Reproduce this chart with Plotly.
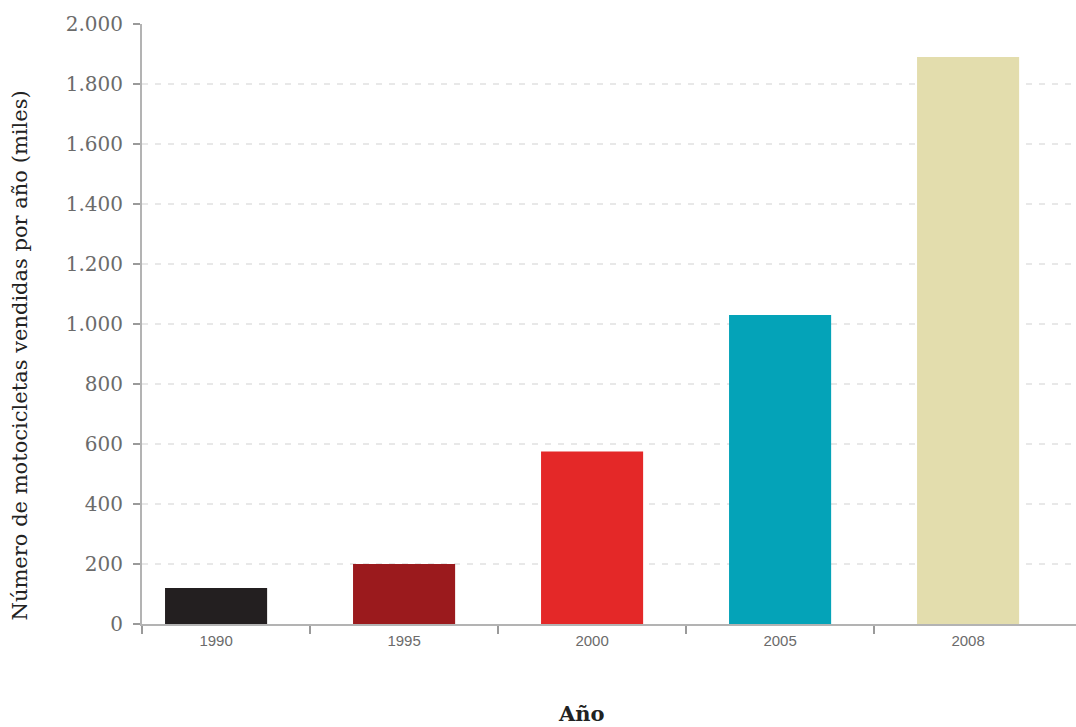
import plotly.graph_objects as go

# Motorcycle sales per year (thousands)
years = ["1990", "1995", "2000", "2005", "2008"]
sales = [120, 200, 575, 1030, 1890]
bar_colors = ["#231f20", "#9b1a1d", "#e42828", "#04a3b8", "#e3ddad"]

y_ticks = [0, 200, 400, 600, 800, 1000, 1200, 1400, 1600, 1800, 2000]

serif = "DejaVu Serif"
sans = "Liberation Sans"

positions = list(range(len(years)))
x_start, x_end = -0.394, 4.574
# tick marks sit between the year groups (plus one at the axis origin)
boundaries = [x_start] + [p + 0.5 for p in positions[:-1]]

fig = go.Figure(
    go.Bar(
        x=positions,
        y=sales,
        width=0.543,
        marker=dict(color=bar_colors, line=dict(width=0)),
        showlegend=False,
    )
)

fig.update_layout(
    width=1076,
    height=727,
    margin=dict(l=142, r=0, t=24, b=103),
    plot_bgcolor="white",
    paper_bgcolor="white",
    separators=",.",
    xaxis=dict(
        range=[x_start, x_end],
        tickvals=positions,
        ticktext=years,
        ticks="",
        ticklabelstandoff=2,
        minor=dict(
            tickvals=boundaries,
            ticks="outside",
            ticklen=8,
            tickwidth=2,
            tickcolor="#9a9a9a",
            showgrid=False,
        ),
        showgrid=False,
        showline=True,
        linecolor="#b3b3b3",
        linewidth=2,
        tickfont=dict(family=sans, size=15, color="#6b6b6b"),
        zeroline=False,
    ),
    yaxis=dict(
        range=[0, 2000],
        tickvals=y_ticks,
        separatethousands=True,
        showline=True,
        linecolor="#b3b3b3",
        linewidth=2,
        ticks="outside",
        ticklen=7,
        tickwidth=2,
        tickcolor="#9a9a9a",
        ticklabelstandoff=6,
        tickfont=dict(family=serif, size=20, color="#6b6b6b"),
        showgrid=True,
        gridcolor="#e8e8e8",
        gridwidth=2,
        griddash="6px,7px",
        zeroline=False,
    ),
    annotations=[
        dict(
            text="Número de motocicletas vendidas por año (miles)",
            xref="paper", yref="paper",
            x=-0.131, y=0.447,
            xanchor="center", yanchor="middle",
            textangle=-90,
            showarrow=False,
            font=dict(family=serif, size=21, color="#222222"),
        ),
        dict(
            text="<b>Año</b>",
            xref="paper", yref="paper",
            x=0.4705, y=-0.149,
            xanchor="center", yanchor="middle",
            showarrow=False,
            font=dict(family=serif, size=21, color="#222222"),
        ),
    ],
)

fig.write_html("out.html")
